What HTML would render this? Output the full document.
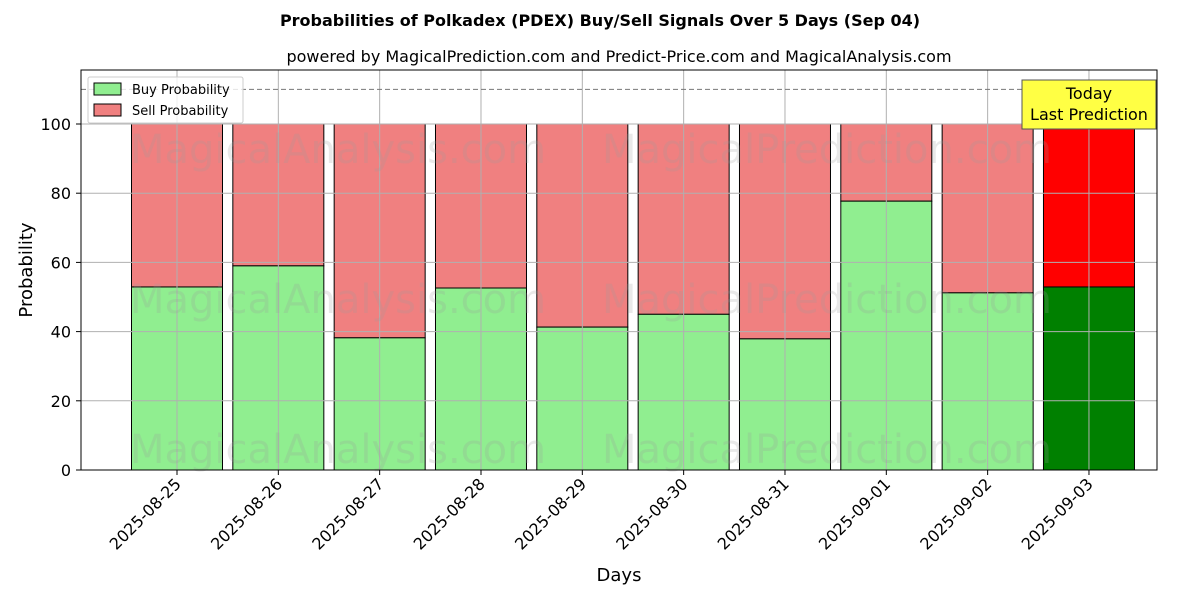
<!DOCTYPE html>
<html><head><meta charset="utf-8"><style>
body{margin:0;background:#fff}
svg{font-family:"DejaVu Sans","Liberation Sans",sans-serif}
</style></head><body>
<svg id="c" width="1200" height="600" xmlns="http://www.w3.org/2000/svg">
<text x="600" y="26" text-anchor="middle" font-size="16" font-weight="bold">Probabilities of Polkadex (PDEX) Buy/Sell Signals Over 5 Days (Sep 04)</text>
<text x="619" y="62" text-anchor="middle" font-size="16">powered by MagicalPrediction.com and Predict-Price.com and MagicalAnalysis.com</text>
<g id="bars"></g>
<g id="grid"></g>
<g fill="#999" fill-opacity="0.22" font-size="40">
<text x="130" y="163">MagicalAnalysis.com</text><text x="602" y="163">MagicalPrediction.com</text>
<text x="130" y="313">MagicalAnalysis.com</text><text x="602" y="313">MagicalPrediction.com</text>
<text x="130" y="463">MagicalAnalysis.com</text><text x="602" y="463">MagicalPrediction.com</text>
</g>
<line x1="81" x2="1157" y1="89.4" y2="89.4" stroke="#777" stroke-dasharray="5,3"/>
<rect x="81" y="70" width="1076" height="400" fill="none" stroke="#000"/>
<g id="axes"></g>
<text x="32" y="270" font-size="18" text-anchor="middle" transform="rotate(-90 32 270)">Probability</text>
<text x="619" y="581" font-size="18" text-anchor="middle">Days</text>
<g>
<rect x="88" y="77" width="155" height="46" fill="#fff" fill-opacity="0.8" stroke="#ccc" rx="2"/>
<rect x="94" y="83" width="27" height="12" fill="#90ee90" stroke="#000"/>
<text x="132" y="94" font-size="13">Buy Probability</text>
<rect x="94" y="104" width="27" height="12" fill="#f08080" stroke="#000"/>
<text x="132" y="115" font-size="13">Sell Probability</text>
</g>
<g>
<rect x="1022" y="80" width="134" height="49" fill="#ffff44" stroke="#555"/>
<text x="1089" y="99" font-size="16" text-anchor="middle">Today</text>
<text x="1089" y="120" font-size="16" text-anchor="middle">Last Prediction</text>
</g>
</svg>
<script>
const categories=["2025-08-25","2025-08-26","2025-08-27","2025-08-28","2025-08-29","2025-08-30","2025-08-31","2025-09-01","2025-09-02","2025-09-03"];
const buyValues=[52.9,59.0,38.2,52.6,41.3,45.0,37.9,77.7,51.2,52.9];
const yTicks=[0,20,40,60,80,100];
const NS="http://www.w3.org/2000/svg";
const xS=i=>177+i*101.33;
const yS=v=>470-v*3.46;
const bw=91;
function mk(t,a,p){const e=document.createElementNS(NS,t);for(const k in a)e.setAttribute(k,a[k]);p.appendChild(e);return e;}
const grid=document.getElementById('grid'),bars=document.getElementById('bars'),axes=document.getElementById('axes');
yTicks.forEach(v=>{
 const l=mk('line',{x1:81,x2:1157,y1:yS(v),y2:yS(v),stroke:'#b0b0b0','stroke-width':1},grid);
 
 mk('line',{x1:76,x2:81,y1:yS(v),y2:yS(v),stroke:'#000'},axes);
 const t=mk('text',{x:71,y:yS(v)+6,'text-anchor':'end','font-size':16},axes);t.textContent=v;
 
});
categories.forEach((c,i)=>{
 const x=xS(i);
 const g=mk('line',{x1:x,x2:x,y1:70,y2:470,stroke:'#b0b0b0','stroke-width':1},grid);
 
 const last=i===categories.length-1;
 const b=buyValues[i];
 const sr=mk('rect',{x:x-bw/2,y:yS(100),width:bw,height:yS(b)-yS(100),fill:last?'#ff0000':'#f08080',stroke:'#000'},bars);
 
 const br=mk('rect',{x:x-bw/2,y:yS(b),width:bw,height:yS(0)-yS(b),fill:last?'#008000':'#90ee90',stroke:'#000'},bars);
 
 mk('line',{x1:x,x2:x,y1:470,y2:475,stroke:'#000'},axes);
 const t=mk('text',{x:x+5,y:485,'text-anchor':'end','font-size':16,transform:`rotate(-45 ${x+5} 485)`},axes);t.textContent=c;
 
});
</script>
</body></html>
